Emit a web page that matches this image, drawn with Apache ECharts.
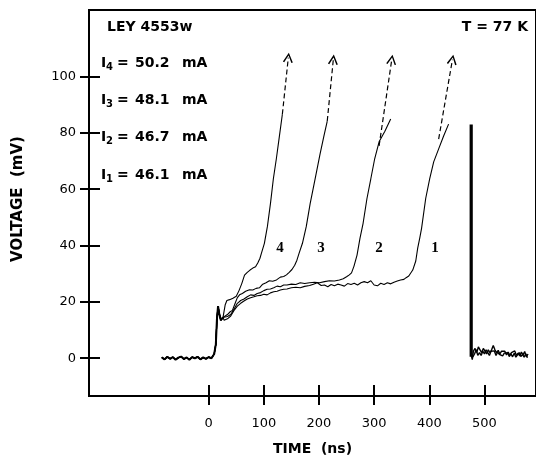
<!DOCTYPE html>
<html>
<head>
<meta charset="utf-8">
<script src="https://cdn.jsdelivr.net/npm/echarts@6/dist/echarts.min.js"></script>
<style>
html,body{margin:0;padding:0;background:#fff;}
#chart{width:536px;height:461px;}
</style>
</head>
<body>
<div id="chart"></div>
<script>
// ---- data (time in ns, voltage in mV) ----
const xTicks = [0, 100, 200, 300, 400, 500];
const yTicks = [0, 20, 40, 60, 80, 100];

const baseline = [[-85,0.3],[-80,-0.4],[-75,0.5],[-70,-0.2],[-65,0.4],[-60,-0.5],[-55,0.2],[-50,0.6],[-45,-0.3],[-40,0.3],[-35,-0.5],[-30,0.4],[-25,0],[-20,0.5],[-15,-0.4],[-10,0.3],[-5,-0.2],[0,0.4],[5,0],[8,0.6],[10,1.5]];
const step = [[13,5],[15,14],[17,18.5],[19,16],[22,13.5],[26,14.5]];

const curve4 = [[27,15],[30,19],[33,20.5],[38,20.8],[44,21.3],[50,22],[55,24],[60,26.5],[65,29.5],[70,30.5],[75,31.3],[80,32],[85,32.5],[89,33.8],[93,35.5],[95.7,37.3],[101,40.8],[106.5,46.8],[112,54.9],[117.3,63.7],[122.7,70.8],[128,78.5],[133.6,86.6]];
const curve3 = [[29,15],[34,15.5],[39,16.5],[43,17],[48,19.5],[52,21.5],[56,22.5],[61,23],[67,23.8],[74,24.3],[80,24.2],[86,24.8],[92,25],[98,26.3],[104,26.8],[110,27.5],[116,27.3],[123,27.8],[130,28.8],[136,29],[141,29.6],[146,30.5],[151,31.5],[156,33],[160,34.8],[164,37.3],[170,40.8],[177,46.8],[184,54.9],[193,63.7],[202,72.5],[209,78.9],[215,84.2]];
const curve2 = [[28,14],[34,14.8],[40,15.5],[46,17.5],[52,19.5],[58,20.5],[64,21],[70,21.8],[76,22.5],[82,22.3],[88,23],[94,23.3],[100,24],[106,24.5],[112,24.6],[118,25],[124,25.6],[130,25.4],[136,26],[142,26],[150,26.3],[158,26.2],[166,26.8],[174,26.5],[183,26.8],[192,27],[201,26.8],[210,27.2],[219,27.5],[228,27.4],[237,27.8],[244,28.2],[250,28.9],[255,29.6],[259,30.3],[263.5,32.7],[269,36.6],[274.4,42.6],[280,47.9],[287,56.7],[294,63.7],[301,70.8],[309,76.8],[319.5,80.6],[330,84.9]];
const curve1 = [[28,13.5],[34,14],[40,15],[46,17],[52,18.5],[58,19.5],[64,20.3],[70,21],[76,21.5],[82,21.8],[88,22.2],[94,22.3],[100,22.7],[106,22.5],[112,23.2],[118,23.6],[124,23.8],[130,24.2],[136,24.5],[142,24.6],[150,25],[158,25.2],[166,25],[174,25.5],[183,25.8],[190,26.3],[197,26.8],[204,25.8],[210,26],[216,25.4],[222,26.2],[228,25.7],[234,26.3],[240,26],[246,25.6],[252,26.5],[258,26.2],[264,26.6],[270,26],[276,26.8],[282,27.2],[288,26.8],[294,27.5],[300,26],[306,25.7],[312,26.6],[318,26.2],[324,26.8],[330,26.4],[336,27],[342,27.4],[348,27.8],[354,28],[358,28.6],[362.8,29.2],[370,31.3],[375.5,34.5],[379,39.1],[382.7,42.6],[386,46.1],[393.5,56.7],[400.7,63.7],[408,69.7],[417,74.3],[426,78.9],[435,83.1]];

// dashed extrapolations (start, arrow tip)
const dash4 = [[133.6,86.6],[144.4,106.7]];
const dash3 = [[215,84.2],[226,106]];
const dash2 = [[309,75.4],[332,106]];
const dash1 = [[417,77.8],[442,106]];

// pulse end
const fall = [[476,83],[476,0.5]];
const tailA = [[476,1],[478,-0.5],[480,2.5],[483,3.5],[486,2],[489,4],[492,3],[495,2],[498,3.5],[501,2.5],[504,1.5],[507,3],[510,2],[513,3],[516,4.5],[519,3],[522,2],[525,2.8],[528,1.5],[531,2.5],[534,1.8],[537,2.5],[540,1.2],[543,2.2],[546,1],[549,2],[552,1.4],[555,2.6],[558,1],[561,1.8],[564,0.8],[567,2.2],[570,1.2],[573,2.4],[576,0.5],[579,1.5]];
const tailB = [[476,2],[479,0.5],[482,1.5],[485,3],[488,1],[491,2],[494,1],[497,2.5],[500,1.5],[503,3],[506,2],[509,1],[512,2.5],[515,1.8],[518,2.6],[521,1],[524,2.2],[527,1.4],[530,2],[533,0.8],[536,1.8],[539,1.2],[542,2],[545,0.6],[548,1.6],[551,0.5],[554,1.8],[557,0.4],[560,1.2],[563,2],[566,0.6],[569,1.4],[572,0.4],[575,1.6],[578,0.2]];

const curveNames = ['1', '2', '3', '4'];
const currents = [['4', '50.2'], ['3', '48.1'], ['2', '46.7'], ['1', '46.1']];

// ---- chart ----
const SANS = '"DejaVu Sans", Verdana, sans-serif';
const chart = echarts.init(document.getElementById('chart'), null, {renderer: 'canvas'});

function solid(name, data, w) {
  return {
    name: name, type: 'line', data: data, showSymbol: false, symbol: 'none',
    lineStyle: {color: '#000', width: w || 1.1}, animation: false, z: 3
  };
}
const openArrow = 'path://M0,10 L5,0 L10,10 L8.6,10.6 L5,3 L1.4,10.6 Z';
function dashed(coords) {
  return {
    type: 'lines', coordinateSystem: 'cartesian2d', animation: false,
    symbol: ['none', openArrow], symbolSize: [6, 10],
    lineStyle: {color: '#000', width: 1.2, type: [5, 3], opacity: 1},
    data: [{coords: coords}], z: 3
  };
}

const axisCommon = {type: 'value', splitLine: {show: false}};
const xMin = -217, xMax = 593.5, yMin = -13.4, yMax = 123.6;
const tickLine = {color: '#000', width: 2};

const option = {
  backgroundColor: '#fff',
  animation: false,
  grid: {left: 89, right: -2, top: 10, bottom: 62, show: true, borderColor: '#000', borderWidth: 2},
  xAxis: [
    Object.assign({}, axisCommon, {
      min: xMin, max: xMax, position: 'bottom',
      name: 'TIME  (ns)', nameLocation: 'middle', nameGap: 46,
      nameTextStyle: {fontFamily: SANS, fontSize: 14, fontWeight: 'bold', color: '#000'},
      axisLine: {show: true, onZero: false, lineStyle: {color: '#000', width: 2}},
      axisTick: {show: true, customValues: xTicks, length: 9, lineStyle: tickLine},
      axisLabel: {customValues: xTicks, margin: 21, fontFamily: SANS, fontSize: 13, color: '#000'}
    }),
    Object.assign({}, axisCommon, {
      min: xMin, max: xMax, position: 'bottom',
      axisLine: {show: false, onZero: false},
      axisTick: {show: true, inside: true, customValues: xTicks, length: 11, lineStyle: tickLine},
      axisLabel: {show: false}
    })
  ],
  yAxis: [
    Object.assign({}, axisCommon, {
      min: yMin, max: yMax, position: 'left',
      axisLine: {show: true, onZero: false, lineStyle: {color: '#000', width: 2}},
      axisTick: {show: true, customValues: yTicks, length: 9, lineStyle: tickLine},
      axisLabel: {customValues: yTicks, margin: 13, fontFamily: SANS, fontSize: 13, color: '#000',
        verticalAlign: 'middle', padding: [0, 0, 6, 0]}
    }),
    Object.assign({}, axisCommon, {
      min: yMin, max: yMax, position: 'left',
      axisLine: {show: false, onZero: false},
      axisTick: {show: true, inside: true, customValues: yTicks, length: 11, lineStyle: tickLine},
      axisLabel: {show: false}
    })
  ],
  series: [
    solid('base', baseline.concat(step), 2),
    solid('4', baseline.concat(step, curve4)),
    solid('3', baseline.concat(step, curve3)),
    solid('2', baseline.concat(step, curve2)),
    solid('1', baseline.concat(step, curve1)),
    dashed(dash4), dashed(dash3), dashed(dash2), dashed(dash1),
    solid('fall', fall, 3.2),
    solid('tailA', tailA, 1.4),
    solid('tailB', tailB, 1.4)
  ],
  graphic: []
};

const g = option.graphic;
const BOLD14 = 'bold 14px ' + SANS;
g.push({type: 'text', x: 107, y: 27, style: {text: 'LEY 4553w', font: BOLD14, fill: '#000', verticalAlign: 'middle'}});
g.push({type: 'text', x: 528, y: 27, style: {text: 'T = 77 K', font: BOLD14, fill: '#000', align: 'right', verticalAlign: 'middle'}});
const rowY = [63, 100, 137, 175];
currents.forEach(function (c, i) {
  const y = rowY[i];
  g.push({type: 'text', x: 101, y: y, style: {text: 'I', font: BOLD14, fill: '#000', verticalAlign: 'middle'}});
  g.push({type: 'text', x: 106, y: y + 4, style: {text: c[0], font: 'bold 10px ' + SANS, fill: '#000', verticalAlign: 'middle'}});
  g.push({type: 'text', x: 117, y: y, style: {text: '=', font: BOLD14, fill: '#000', verticalAlign: 'middle'}});
  g.push({type: 'text', x: 135, y: y, style: {text: c[1], font: BOLD14, fill: '#000', verticalAlign: 'middle'}});
  g.push({type: 'text', x: 182, y: y, style: {text: 'mA', font: BOLD14, fill: '#000', verticalAlign: 'middle'}});
});
g.push({type: 'text', x: 18, y: 199, rotation: Math.PI / 2,
  style: {text: 'VOLTAGE  (mV)', font: 'bold 15px ' + SANS, fill: '#000', align: 'center', verticalAlign: 'middle'}});
const labelPos = [[435, 248], [379, 248], [321, 248], [280, 248]];
curveNames.forEach(function (n, i) {
  g.push({type: 'text', x: labelPos[i][0], y: labelPos[i][1],
    style: {text: n, font: 'bold 15px "Liberation Serif", "Times New Roman", serif', fill: '#000', align: 'center', verticalAlign: 'middle'}});
});

chart.setOption(option);
</script>
</body>
</html>
